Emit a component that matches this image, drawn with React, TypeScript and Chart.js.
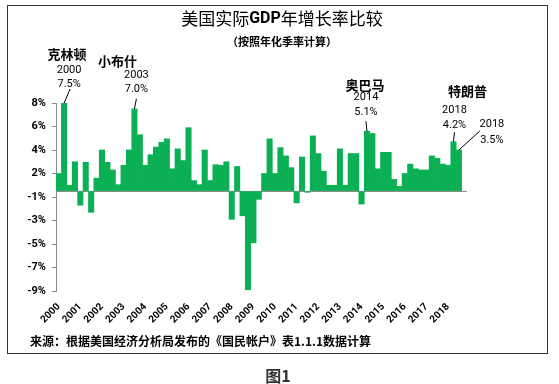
import React, { useEffect, useRef } from 'react';
import { Chart, registerables } from 'chart.js';

Chart.register(...registerables);

// ---------- data ----------
const years = [
  '2000', '2001', '2002', '2003', '2004', '2005', '2006', '2007', '2008', '2009',
  '2010', '2011', '2012', '2013', '2014', '2015', '2016', '2017', '2018',
];
const quarters = ['Q1', 'Q2', 'Q3', 'Q4'];

// annualized quarterly real GDP growth, %, 2000Q1 .. 2018Q3
const growth = [
  1.5, 7.5, 0.5, 2.5, // 2000
  -1.2, 2.45, -1.8, 1.1, // 2001
  3.5, 2.45, 1.8, 0.55, // 2002
  2.2, 3.5, 7.0, 4.8, // 2003
  2.2, 3.1, 3.75, 4.15, // 2004
  4.45, 1.9, 3.6, 2.6, // 2005
  5.4, 0.9, 0.55, 3.5, // 2006
  0.9, 2.25, 2.2, 2.5, // 2007
  -2.4, 2.1, -2.1, -8.4, // 2008
  -4.4, -0.7, 1.5, 4.45, // 2009
  1.5, 3.7, 3.0, 2.0, // 2010
  -1.0, 2.9, -0.1, 4.7, // 2011
  3.2, 1.7, 0.5, 0.5, // 2012
  3.6, 0.5, 3.2, 3.2, // 2013
  -1.1, 5.1, 4.9, 1.9, // 2014
  3.3, 3.3, 1.0, 0.4, // 2015
  1.5, 2.3, 1.9, 1.8, // 2016
  1.8, 3.0, 2.8, 2.3, // 2017
  2.2, 4.2, 3.5, // 2018
];

const yTickValues = [-8.5, -6.5, -4.5, -2.5, -0.5, 1.5, 3.5, 5.5, 7.5];

const titleParts = [
  { text: '美国实际', bold: false },
  { text: 'GDP', bold: true },
  { text: '年增长率比较', bold: false },
];
const subtitle = '（按照年化季率计算）';
const sourceNote = '来源：根据美国经济分析局发布的《国民帐户》表1.1.1数据计算';
const figureLabel = '图1';

// president annotations: name, bar index (quarter)
const annotations = [
  { name: '克林顿', index: 1 },
  { name: '小布什', index: 14 },
  { name: '奥巴马', index: 57 },
  { name: '特朗普', index: 73 },
  { name: '', index: 74 },
];

const categories = years.flatMap((y) => quarters.map((q) => y + q));

// ---------- layout (pixel offsets relative to bar top) ----------
const annotationLayout = [
  { name: [3, -49], year: [5, -33], value: [5, -19], line: [6, -14] },
  { name: [-17, -48], year: [2, -34], value: [2, -20], line: [2, -10] },
  { name: [-2, -46], year: [-1, -34], value: [-1, -19], line: [-1, -10] },
  { name: [14, -51], year: [1, -32], value: [1, -17], line: [1, -9.5] },
  { name: [0, 0], year: [33, -26], value: [33, -10], line: [21, -19] },
];

const CJK = '"Noto Sans CJK SC", "Noto Sans", sans-serif';
const NUM = 'Roboto, "Noto Sans", sans-serif';
const BAR_COLOR = '#0BB055';
const AXIS_COLOR = '#8c8c8c';

function fmtPct(v: number): string {
  const r = Math.round(Math.abs(v));
  return (v < 0 && r !== 0 ? '-' : '') + r + '%';
}

const decor = {
  id: 'decor',
  beforeDraw(chart: any) {
    const ctx = chart.ctx;
    ctx.save();
    ctx.fillStyle = '#ffffff';
    ctx.fillRect(0, 0, chart.width, chart.height);
    ctx.restore();
  },
  afterDraw(chart: any) {
    const ctx = chart.ctx as CanvasRenderingContext2D;
    ctx.save();
    // frame
    ctx.strokeStyle = '#333333';
    ctx.lineWidth = 1;
    ctx.strokeRect(7.5, 5.5, 540, 348);

    // title (mixed fonts)
    ctx.fillStyle = '#000000';
    ctx.textBaseline = 'middle';
    const fonts = titleParts.map((p) =>
      p.bold ? `bold 16px ${NUM}` : `17px ${CJK}`
    );
    let total = 0;
    const widths = titleParts.map((p, i) => {
      ctx.font = fonts[i];
      const w = ctx.measureText(p.text).width;
      total += w;
      return w;
    });
    let tx = 282 - total / 2;
    ctx.textAlign = 'left';
    titleParts.forEach((p, i) => {
      ctx.font = fonts[i];
      ctx.fillText(p.text, tx, 19);
      tx += widths[i];
    });

    ctx.textAlign = 'center';
    ctx.font = `bold 11px ${CJK}`;
    ctx.fillText(subtitle, 282, 42);

    // annotations
    const meta = chart.getDatasetMeta(0);
    annotations.forEach((a, i) => {
      const el = meta.data[a.index];
      if (!el) return;
      const bx = el.x;
      const by = el.y;
      const L = annotationLayout[i];
      ctx.fillStyle = '#000000';
      ctx.textAlign = 'center';
      ctx.textBaseline = 'middle';
      if (a.name) {
        ctx.font = `bold 13px ${CJK}`;
        ctx.fillText(a.name, bx + L.name[0], by + L.name[1]);
      }
      ctx.font = `11px ${NUM}`;
      ctx.fillText(categories[a.index].slice(0, 4), bx + L.year[0], by + L.year[1]);
      ctx.fillText(growth[a.index].toFixed(1) + '%', bx + L.value[0], by + L.value[1]);
      ctx.strokeStyle = '#000000';
      ctx.lineWidth = 1;
      ctx.beginPath();
      ctx.moveTo(bx + L.line[0], by + L.line[1]);
      ctx.lineTo(bx, by);
      ctx.stroke();
    });

    // source note
    ctx.textAlign = 'left';
    ctx.textBaseline = 'middle';
    ctx.font = `bold 12px ${CJK}`;
    ctx.fillStyle = '#000000';
    ctx.fillText(sourceNote, 30, 341);

    // figure label
    ctx.textAlign = 'center';
    ctx.font = `bold 16px ${CJK}`;
    ctx.fillStyle = '#333333';
    ctx.fillText(figureLabel, 278, 376);
    ctx.restore();
  },
};

export default function App() {
  const ref = useRef<HTMLCanvasElement | null>(null);

  useEffect(() => {
    if (!ref.current) return;
    const chart = new Chart(ref.current, {
      type: 'bar',
      data: {
        labels: categories,
        datasets: [
          {
            data: growth,
            backgroundColor: BAR_COLOR,
            borderWidth: 0,
            barPercentage: 1,
            categoryPercentage: 1,
          },
        ],
      },
      options: {
        animation: false,
        responsive: false,
        devicePixelRatio: 1,
        layout: { padding: { left: 16, right: 92, top: 103, bottom: 53 } },
        plugins: {
          legend: { display: false },
          tooltip: { enabled: false },
          title: { display: false },
        },
        scales: {
          x: {
            offset: true,
            grid: { display: false, drawTicks: false },
            border: { display: false },
            ticks: {
              autoSkip: false,
              maxRotation: 45,
              minRotation: 45,
              padding: 10,
              color: '#000000',
              font: { family: NUM, weight: 'bold', size: 10 },
              callback: (_v: any, i: number) =>
                i % 4 === 0 ? categories[i].slice(0, 4) : '',
            },
            afterFit: (s: any) => {
              s.height = 40;
            },
          },
          y: {
            min: -8.5,
            max: 7.5,
            afterBuildTicks: (s: any) => {
              s.ticks = [...yTickValues, 0]
                .sort((a, b) => a - b)
                .map((v) => ({ value: v }));
            },
            grid: {
              color: (c: any) =>
                c.tick && c.tick.value === 0 ? AXIS_COLOR : 'rgba(0,0,0,0)',
              tickColor: (c: any) =>
                c.tick && c.tick.value === 0 ? 'rgba(0,0,0,0)' : AXIS_COLOR,
              tickLength: 4,
              drawOnChartArea: true,
            },
            border: { display: true, color: AXIS_COLOR },
            ticks: {
              padding: 6,
              color: '#000000',
              font: { family: NUM, weight: 'bold', size: 11 },
              callback: (v: any) => (v === 0 ? '' : fmtPct(Number(v))),
            },
            afterFit: (s: any) => {
              s.width = 40;
            },
          },
        },
      },
      plugins: [decor],
    });
    return () => chart.destroy();
  }, []);

  return (
    <div
      style={{
        position: 'fixed',
        left: 0,
        top: 0,
        width: 559,
        height: 384,
        background: '#ffffff',
      }}
    >
      <canvas ref={ref} width={559} height={384} style={{ display: 'block' }} />
    </div>
  );
}
